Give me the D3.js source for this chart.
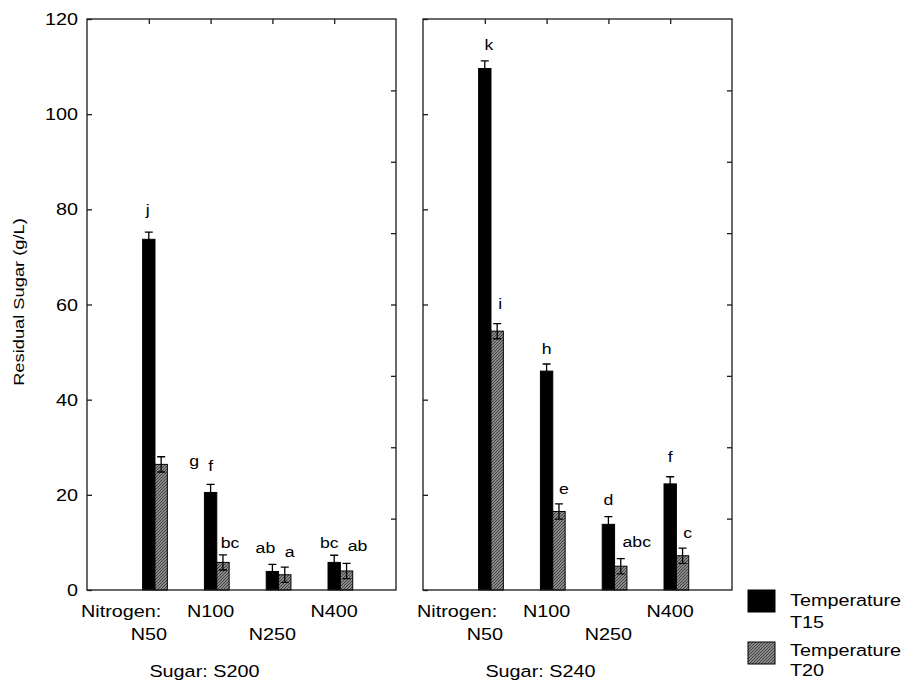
<!DOCTYPE html>
<html>
<head>
<meta charset="utf-8">
<script src="https://cdn.jsdelivr.net/npm/d3@7"></script>
<style>
  body { margin: 0; background: #fff; }
  text { font-family: "Liberation Sans", Arial, sans-serif; fill: #000; }
</style>
</head>
<body>
<script>
// data
var nitrogen = ["N50", "N100", "N250", "N400"];
var sugars = ["S200", "S240"];
var temps = ["T15", "T20"];

var s200T15 = [73.7, 20.5, 3.9, 5.8];
var s200T20 = [26.4, 5.8, 3.2, 4.0];
var s240T15 = [109.6, 46.0, 13.8, 22.3];
var s240T20 = [54.4, 16.5, 5.0, 7.2];

var s200T15Err = [1.5, 1.7, 1.5, 1.5];
var s200T20Err = [1.6, 1.6, 1.6, 1.6];
var s240T15Err = [1.6, 1.5, 1.6, 1.5];
var s240T20Err = [1.6, 1.6, 1.6, 1.6];

var s200T15Letters = ["j", "f", "ab", "bc"];
var s200T20Letters = ["g", "bc", "a", "ab"];
var s240T15Letters = ["k", "h", "d", "f"];
var s240T20Letters = ["i", "e", "abc", "c"];

var yTicks = [0, 20, 40, 60, 80, 100, 120];
var sideTicks = [15, 30, 45, 60, 75, 90, 105];

var values = [[s200T15, s200T20], [s240T15, s240T20]];
var errors = [[s200T15Err, s200T20Err], [s240T15Err, s240T20Err]];
var letters = [[s200T15Letters, s200T20Letters], [s240T15Letters, s240T20Letters]];

var width = 909,
    height = 684;

var svg = d3.select("body").append("svg")
    .attr("width", width)
    .attr("height", height);

// fine hatch for the T20 bars
var pat = svg.append("defs").append("pattern")
    .attr("id", "hatch")
    .attr("patternUnits", "userSpaceOnUse")
    .attr("width", 3)
    .attr("height", 3);
pat.append("rect").attr("width", 3).attr("height", 3).attr("fill", "#a9a9a9");
pat.append("path")
    .attr("d", "M-1,1 l2,-2 M0,3 l3,-3 M2,4 l2,-2")
    .attr("stroke", "#3c3c3c")
    .attr("stroke-width", 1.1);

var fills = ["#000", "url(#hatch)"];

var y = d3.scaleLinear().domain([0, 120]).range([590, 19]);
var panelRange = [[87, 396], [423, 732]];

// text in the original is drawn wide; stretch it along its own direction
function wideText(parent, x, yy, str, size, anchor, sx, rot) {
    var g = parent.append("g")
        .attr("transform", "translate(" + x + "," + yy + ")" + (rot ? " rotate(" + rot + ")" : "") + " scale(" + sx + ",1)");
    return g.append("text")
        .attr("text-anchor", anchor)
        .attr("font-size", size)
        .text(str);
}

// small hand nudges so the letters sit where the original put them  [dx, dy] px
var labelNudge = {
    "0-0-0": [-1, -7], "0-0-1": [28, 19], "0-1-0": [0, -3], "0-1-1": [2, 3],
    "0-2-0": [-7, -1], "0-3-0": [-5, 3], "0-3-1": [6, -2],
    "1-0-0": [4, -1], "1-0-1": [-2, -5], "1-2-0": [0, -2], "1-2-1": [11, -2], "1-3-0": [0, -5]
};

sugars.forEach(function(sugar, p) {
    var x = d3.scaleLinear().domain([0, 5]).range(panelRange[p]);
    var g = svg.append("g");

    var rows = [];
    nitrogen.forEach(function(n, i) {
        temps.forEach(function(t, k) {
            rows.push({
                p: p, i: i, k: k,
                value: values[p][k][i],
                err: errors[p][k][i],
                letter: letters[p][k][i],
                x0: x(i + 1 - 0.1 + 0.2 * k),
                x1: x(i + 1 + 0.1 + 0.2 * k)
            });
        });
    });

    g.selectAll("rect.bar")
        .data(rows)
        .enter().append("rect")
        .attr("class", "bar")
        .attr("x", function(d) { return d.x0; })
        .attr("width", function(d) { return d.x1 - d.x0; })
        .attr("y", function(d) { return y(d.value); })
        .attr("height", function(d) { return y(0) - y(d.value); })
        .attr("fill", function(d) { return fills[d.k]; })
        .attr("stroke", "#000")
        .attr("stroke-width", 1);

    // error bars (on the black bars only the part above the bar shows)
    g.selectAll("path.err")
        .data(rows)
        .enter().append("path")
        .attr("class", "err")
        .attr("fill", "none")
        .attr("stroke", "#000")
        .attr("stroke-width", 1.3)
        .attr("d", function(d) {
            var cx = (d.x0 + d.x1) / 2,
                hi = y(d.value + d.err),
                lo = y(d.value - d.err);
            if (d.k === 0) {
                return "M" + cx + "," + y(d.value) + "V" + hi +
                    "M" + (cx - 4) + "," + hi + "H" + (cx + 4);
            }
            return "M" + cx + "," + lo + "V" + hi +
                "M" + (cx - 4) + "," + hi + "H" + (cx + 4) +
                "M" + (cx - 4) + "," + lo + "H" + (cx + 4);
        });

    // significance letters
    rows.forEach(function(d) {
        var nud = labelNudge[d.p + "-" + d.i + "-" + d.k] || [0, 0];
        var cx = (d.x0 + d.x1) / 2 + (d.k === 1 ? 5 : 0) + nud[0];
        var by = y(d.value + d.err) - 10 + nud[1];
        wideText(g, cx, by, d.letter, 15.5, "middle", 1.14);
    });

    // frame
    g.append("rect")
        .attr("x", panelRange[p][0])
        .attr("y", y(120))
        .attr("width", panelRange[p][1] - panelRange[p][0])
        .attr("height", y(0) - y(120))
        .attr("fill", "none")
        .attr("stroke", "#1a1a1a")
        .attr("stroke-width", 1.3);

    // inward ticks
    g.append("g")
        .attr("transform", "translate(" + panelRange[p][0] + ",0)")
        .call(d3.axisRight(y).tickValues(yTicks).tickSize(5).tickFormat(""))
        .call(function(a) { a.select(".domain").remove(); });
    g.append("g")
        .attr("transform", "translate(" + panelRange[p][1] + ",0)")
        .call(d3.axisLeft(y).tickValues(sideTicks).tickSize(5).tickFormat(""))
        .call(function(a) { a.select(".domain").remove(); });
    g.append("g")
        .attr("transform", "translate(0," + y(120) + ")")
        .call(d3.axisBottom(x).tickValues([1, 2, 3, 4]).tickSize(5).tickFormat(""))
        .call(function(a) { a.select(".domain").remove(); });
    g.selectAll(".tick line").attr("stroke", "#1a1a1a").attr("stroke-width", 1.3);

    // category labels, staggered on two lines
    wideText(g, x(1) + 12.5, 617, "Nitrogen:", 16.5, "end", 1.2);
    nitrogen.forEach(function(n, i) {
        wideText(g, x(i + 1), i % 2 === 0 ? 640 : 617, n, 16.5, "middle", 1.2);
    });
    wideText(g, x(1.9), 677, "Sugar: " + sugar, 16.5, "middle", 1.2);
});

// y tick labels on the left panel
yTicks.forEach(function(t) {
    wideText(svg, 78, y(t) + 6, String(t), 16.5, "end", 1.2);
});

wideText(svg, 24, 302, "Residual Sugar (g/L)", 15, "middle", 1.22, -90);

// legend
var legend = svg.append("g");
temps.forEach(function(t, k) {
    var top = 590 + k * 52;
    legend.append("rect")
        .attr("x", 748)
        .attr("y", top)
        .attr("width", 27)
        .attr("height", 22)
        .attr("fill", fills[k])
        .attr("stroke", "#000")
        .attr("stroke-width", 1);
    wideText(legend, 790, top + 16 - k * 2, "Temperature", 16.5, "start", 1.2);
    wideText(legend, 790, top + 38 - k * 4, t, 16.5, "start", 1.2);
});
</script>
</body>
</html>
